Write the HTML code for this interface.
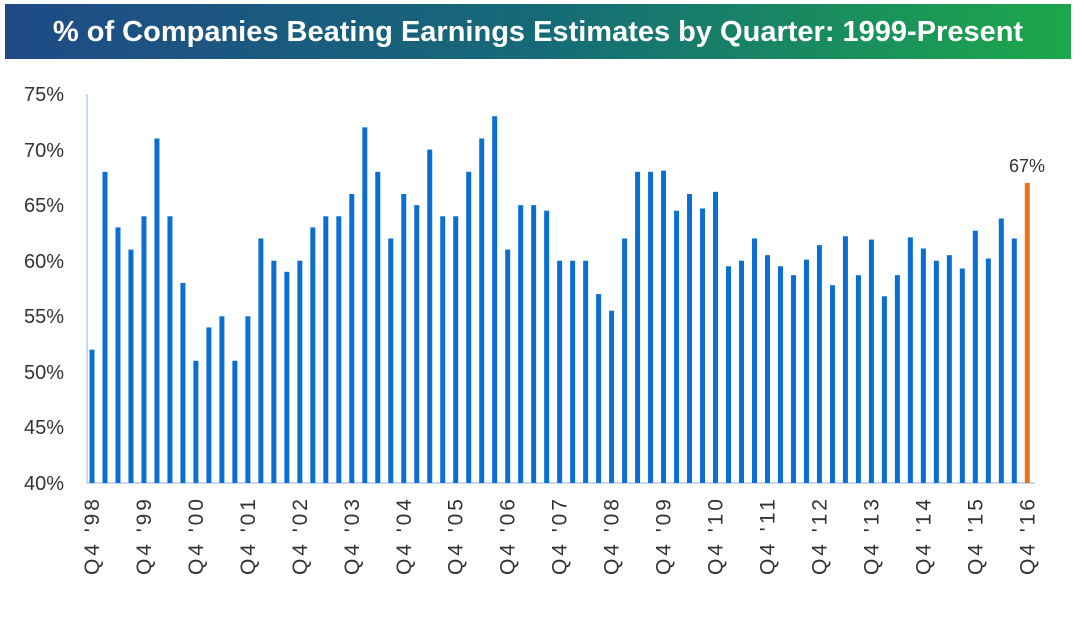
<!DOCTYPE html>
<html><head><style>
body{margin:0;background:#fff;width:1084px;height:612px;overflow:hidden;font-family:"Liberation Sans",sans-serif}
</style></head><body>
<svg width="1084" height="612" xmlns="http://www.w3.org/2000/svg">
<defs><linearGradient id="g" x1="0" x2="1" y1="0" y2="0">
<stop offset="0" stop-color="#1f4a86"/><stop offset="0.5" stop-color="#166a78"/><stop offset="1" stop-color="#1ca84a"/></linearGradient></defs>
<rect x="5" y="4" width="1066" height="55" fill="url(#g)"/>
<text x="538" y="41" text-anchor="middle" fill="#fff" font-size="29" font-weight="bold" font-family="Liberation Sans, sans-serif">% of Companies Beating Earnings Estimates by Quarter: 1999-Present</text>
<g font-size="20" fill="#333" text-anchor="end">
<text x="64" y="101">75%</text><text x="64" y="157">70%</text><text x="64" y="212">65%</text><text x="64" y="268">60%</text><text x="64" y="323">55%</text><text x="64" y="379">50%</text><text x="64" y="434">45%</text><text x="64" y="490">40%</text>
</g>
<line x1="87" y1="94" x2="87" y2="483" stroke="#8fb4e0" stroke-width="1"/>
<line x1="87" y1="483" x2="1035" y2="483" stroke="#8fb4e0" stroke-width="1"/>
<g id="bars"></g>
<g id="labs" font-size="21" fill="#333"></g>
<text x="1027" y="172" text-anchor="middle" font-size="18" fill="#333">67%</text>
</svg>
<script>
var v=[52,68,63,61,64,71,64,58,51,54,55,51,55,62,60,59,60,63,64,64,66,72,68,62,66,65,70,64,64,68,71,73,61,65,65,64.5,60,60,60,57,55.5,62,68,68,68.1,64.5,66,64.7,66.2,59.5,60,62,60.5,59.5,58.7,60.1,61.4,57.8,62.2,58.7,61.9,56.8,58.7,62.1,61.1,60,60.5,59.3,62.7,60.2,63.8,62,67];
var ns="http://www.w3.org/2000/svg",b=document.getElementById("bars"),l=document.getElementById("labs");
v.forEach(function(d,i){var x=92+i*12.99,y=483-(d-40)*11.114;
var r=document.createElementNS(ns,"rect");r.setAttribute("x",x-2.5);r.setAttribute("y",y);r.setAttribute("width",5);r.setAttribute("height",483-y);r.setAttribute("fill",i==72?"#e8731c":"#0a6fd0");b.appendChild(r);
if(i%4==0){var t=document.createElementNS(ns,"text");var yr=(98+i/4)%100;var s="Q4 '"+(yr<10?"0":"")+yr;t.textContent=s;t.setAttribute("transform","translate("+(x+7)+",499) rotate(-90)");t.setAttribute("text-anchor","end");t.setAttribute("textLength","76");l.appendChild(t);}
});
</script>
</body></html>
